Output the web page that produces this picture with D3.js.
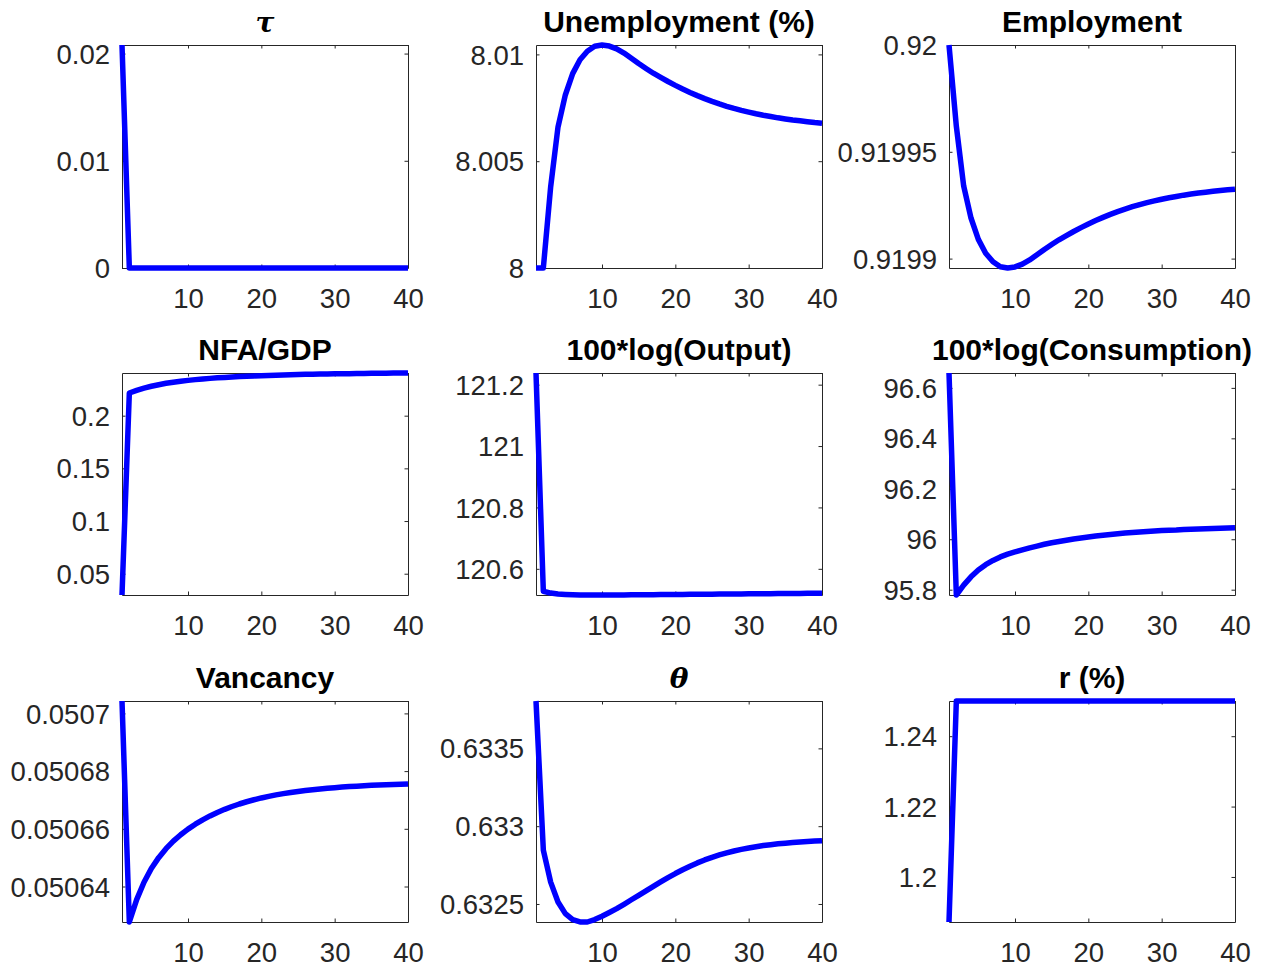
<!DOCTYPE html>
<html><head><meta charset="utf-8">
<script src="https://cdn.jsdelivr.net/npm/d3@7/dist/d3.min.js"></script>
<style>html,body{margin:0;padding:0;background:#fff;} svg{display:block;}</style>
</head><body>
<svg id="chart" width="1262" height="969"></svg>
<script>
// ---------- data ----------
const periods = d3.range(1, 41);
const xTicks = [10, 20, 30, 40];

const tau = [0.0208, 0,0,0,0,0,0,0,0,0, 0,0,0,0,0,0,0,0,0,0, 0,0,0,0,0,0,0,0,0,0, 0,0,0,0,0,0,0,0,0,0];
const tauTicks = [0, 0.01, 0.02];
const tauLabels = ["0", "0.01", "0.02"];

const unemployment = [8, 8, 8.0038, 8.0066, 8.0081, 8.0091, 8.00975, 8.01015, 8.01038, 8.01044,
  8.01039, 8.01026, 8.01006, 8.00982, 8.00957, 8.00934, 8.00912, 8.00892, 8.00873, 8.00855,
  8.00838, 8.00822, 8.00807, 8.00793, 8.0078, 8.00768, 8.00757, 8.00747, 8.00738, 8.0073,
  8.00722, 8.00715, 8.00709, 8.00703, 8.00698, 8.00693, 8.00689, 8.00685, 8.00681, 8.00678];
const unemploymentTicks = [8, 8.005, 8.01];
const unemploymentLabels = ["8", "8.005", "8.01"];

const employment = [0.92, 0.919962, 0.919934, 0.919919, 0.919909, 0.9199025, 0.9198985, 0.9198962, 0.9198956, 0.9198961,
  0.9198974, 0.9198994, 0.9199018, 0.9199043, 0.9199066, 0.9199088, 0.9199108, 0.9199127, 0.9199145, 0.9199162,
  0.9199178, 0.9199193, 0.9199207, 0.919922, 0.9199232, 0.9199243, 0.9199253, 0.9199262, 0.919927, 0.9199278,
  0.9199285, 0.9199291, 0.9199297, 0.9199302, 0.9199307, 0.9199311, 0.9199315, 0.9199319, 0.9199322, 0.9199325];
const employmentTicks = [0.9199, 0.91995, 0.92];
const employmentLabels = ["0.9199", "0.91995", "0.92"];

const nfaGdp = [0.0298, 0.2215, 0.2240, 0.2261, 0.2279, 0.2294, 0.2307, 0.2318, 0.2327, 0.2335,
  0.2342, 0.2348, 0.2354, 0.2359, 0.2363, 0.2367, 0.2371, 0.2374, 0.2377, 0.2380,
  0.2382, 0.2384, 0.2386, 0.2388, 0.2390, 0.2392, 0.2393, 0.2395, 0.2396, 0.2397,
  0.2398, 0.2399, 0.2400, 0.2401, 0.2402, 0.2402, 0.2403, 0.2404, 0.2404, 0.2405];
const nfaTicks = [0.05, 0.1, 0.15, 0.2];
const nfaLabels = ["0.05", "0.1", "0.15", "0.2"];

const output = [121.238, 120.527, 120.521, 120.518, 120.5165, 120.5155, 120.515, 120.5148, 120.5147, 120.5147,
  120.5148, 120.5149, 120.515, 120.5152, 120.5154, 120.5156, 120.5158, 120.516, 120.5163, 120.5165,
  120.5167, 120.5169, 120.5171, 120.5173, 120.5175, 120.5177, 120.5179, 120.5181, 120.5183, 120.5185,
  120.5187, 120.5189, 120.5191, 120.5193, 120.5195, 120.5197, 120.5199, 120.5201, 120.5203, 120.5205];
const outputTicks = [120.6, 120.8, 121, 121.2];
const outputLabels = ["120.6", "120.8", "121", "121.2"];

const consumption = [96.659, 95.779, 95.818, 95.851, 95.878, 95.899, 95.916, 95.930, 95.941, 95.950,
  95.958, 95.966, 95.973, 95.980, 95.986, 95.991, 95.996, 96.001, 96.005, 96.009,
  96.013, 96.016, 96.019, 96.022, 96.025, 96.027, 96.029, 96.031, 96.033, 96.035,
  96.036, 96.037, 96.039, 96.040, 96.041, 96.042, 96.043, 96.044, 96.045, 96.046];
const consumptionTicks = [95.8, 96, 96.2, 96.4, 96.6];
const consumptionLabels = ["95.8", "96", "96.2", "96.4", "96.6"];

const vacancy = [0.0507043, 0.0506277, 0.05063546, 0.05064147, 0.05064623, 0.05065001, 0.05065311, 0.05065573, 0.05065796, 0.0506599,
  0.0506616, 0.05066311, 0.05066446, 0.05066568, 0.05066676, 0.05066773, 0.0506686, 0.05066938, 0.05067008, 0.0506707,
  0.05067125, 0.05067175, 0.05067219, 0.05067259, 0.05067295, 0.05067327, 0.05067356, 0.05067382, 0.05067406, 0.05067427,
  0.05067446, 0.05067464, 0.05067479, 0.05067493, 0.05067506, 0.05067517, 0.05067528, 0.05067538, 0.05067546, 0.05067554];
const vacancyTicks = [0.05064, 0.05066, 0.05068, 0.0507];
const vacancyLabels = ["0.05064", "0.05066", "0.05068", "0.0507"];

const theta = [0.6338044, 0.6328456, 0.6326407, 0.6325129, 0.6324382, 0.6323996, 0.632385, 0.6323842, 0.6324, 0.6324209,
  0.632445, 0.6324704, 0.632498, 0.632527, 0.6325555, 0.6325845, 0.6326135, 0.632642, 0.6326695, 0.6326955,
  0.63272, 0.632743, 0.632764, 0.632783, 0.6328, 0.632815, 0.6328285, 0.6328405, 0.632851, 0.6328602,
  0.6328682, 0.6328752, 0.6328812, 0.6328864, 0.6328909, 0.6328949, 0.6328984, 0.6329015, 0.6329043, 0.6329068];
const thetaTicks = [0.6325, 0.633, 0.6335];
const thetaLabels = ["0.6325", "0.633", "0.6335"];

const rate = [1.1872, 1.25,1.25,1.25,1.25,1.25,1.25,1.25,1.25,1.25, 1.25,1.25,1.25,1.25,1.25,1.25,1.25,1.25,1.25,1.25,
  1.25,1.25,1.25,1.25,1.25,1.25,1.25,1.25,1.25,1.25, 1.25,1.25,1.25,1.25,1.25,1.25,1.25,1.25,1.25,1.25];
const rateTicks = [1.2, 1.22, 1.24];
const rateLabels = ["1.2", "1.22", "1.24"];

const titles = ["τ", "Unemployment (%)", "Employment", "NFA/GDP", "100*log(Output)", "100*log(Consumption)", "Vancancy", "θ", "r (%)"];
const seriesList = [tau, unemployment, employment, nfaGdp, output, consumption, vacancy, theta, rate];
const tickList = [tauTicks, unemploymentTicks, employmentTicks, nfaTicks, outputTicks, consumptionTicks, vacancyTicks, thetaTicks, rateTicks];
const labelList = [tauLabels, unemploymentLabels, employmentLabels, nfaLabels, outputLabels, consumptionLabels, vacancyLabels, thetaLabels, rateLabels];
const greekTitles = ["τ", "θ"];

// ---------- layout ----------
const colLeft = [122, 536, 949];
const colW = 286;
const rowTop = [45, 373, 701];
const rowH = [223, 222, 221];
const axisColor = "#262626";
const tickFont = "'Liberation Sans', Arial, Helvetica, sans-serif";
const tickLen = 3.5;

const svg = d3.select("#chart");

seriesList.forEach((vals, i) => {
  const r = Math.floor(i / 3), c = i % 3;
  const w = colW, h = rowH[r];
  const g = svg.append("g").attr("transform", `translate(${colLeft[c]},${rowTop[r]})`);

  const x = d3.scaleLinear().domain([1, 40]).range([0, w]);
  const y = d3.scaleLinear().domain(d3.extent(vals)).range([h, 0]);

  const styleAxis = sel => {
    sel.attr("color", axisColor);
    sel.selectAll("text").attr("fill", axisColor).style("font-family", tickFont).style("font-size", "27.5px");
    sel.selectAll("path.domain").attr("stroke-width", 1);
  };

  g.append("g").attr("transform", `translate(0,${h})`)
    .call(d3.axisBottom(x).tickValues(xTicks).tickFormat(d3.format("d")).tickSizeInner(-tickLen).tickSizeOuter(0).tickPadding(20.5))
    .call(styleAxis);
  g.append("g")
    .call(d3.axisTop(x).tickValues(xTicks).tickFormat("").tickSizeInner(-tickLen).tickSizeOuter(0))
    .call(styleAxis);
  const labs = labelList[i];
  g.append("g")
    .call(d3.axisLeft(y).tickValues(tickList[i]).tickFormat((d, k) => labs[k]).tickSizeInner(-tickLen).tickSizeOuter(0).tickPadding(12))
    .call(styleAxis)
    .selectAll("text").attr("dy", "0.35em");
  g.append("g").attr("transform", `translate(${w},0)`)
    .call(d3.axisRight(y).tickValues(tickList[i]).tickFormat("").tickSizeInner(-tickLen).tickSizeOuter(0))
    .call(styleAxis);

  const line = d3.line().x((d, k) => x(periods[k])).y(d => y(d));
  g.append("path").datum(vals)
    .attr("d", line)
    .attr("fill", "none")
    .attr("stroke", "#0000ff")
    .attr("stroke-width", 5.5)
    .attr("stroke-linejoin", "round")
    .attr("stroke-linecap", "butt");

  const greek = greekTitles.includes(titles[i]);
  g.append("text")
    .attr("x", w / 2)
    .attr("y", -13)
    .attr("text-anchor", "middle")
    .attr("fill", "#000")
    .style("font-family", greek ? "'DejaVu Serif', serif" : tickFont)
    .style("font-weight", "bold")
    .style("font-style", greek ? "italic" : "normal")
    .style("font-size", greek ? "28px" : "30px")
    .text(titles[i]);
});
</script>
</body></html>
